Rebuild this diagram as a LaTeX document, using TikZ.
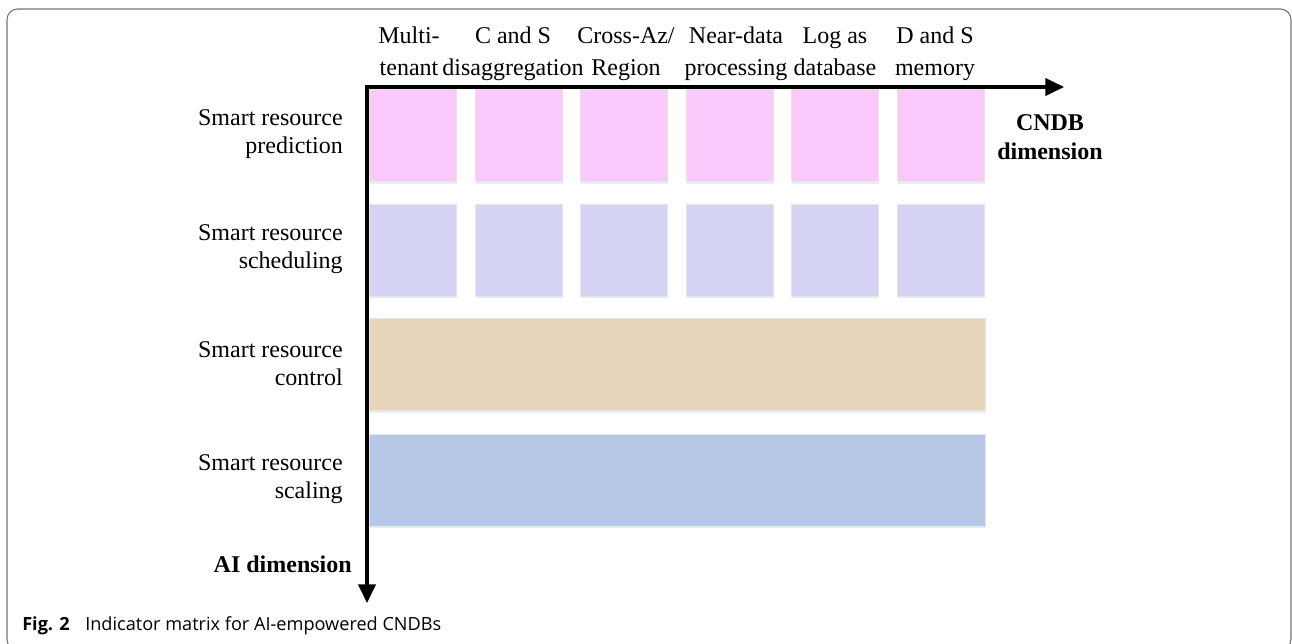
\documentclass[tikz,border=0pt]{standalone}
\usepackage{fontspec}
\setmainfont{Liberation Serif}
\newfontfamily\capfont{Open Sans}
\usetikzlibrary{arrows.meta,shadows}
\definecolor{cpink}{RGB}{252,201,252}
\definecolor{clav}{RGB}{214,212,244}
\definecolor{ctan}{RGB}{231,214,188}
\definecolor{cblue}{RGB}{183,199,231}
\definecolor{cshadow}{RGB}{200,216,242}
\tikzset{
  cell/.style={anchor=north west, inner sep=0pt, draw=black!10, line width=0.4pt,
    drop shadow={shadow xshift=0.5pt, shadow yshift=-2pt, opacity=0.45, fill=cshadow}},
  small/.style={cell, minimum width=65.25pt, minimum height=69pt},
  wide/.style={cell, minimum width=462pt, minimum height=69pt},
  head/.style={anchor=base, align=center, inner sep=0pt, font=\fontsize{18}{24}\selectfont},
  rowlab/.style={anchor=east, align=right, inner sep=0pt, font=\fontsize{18}{21}\selectfont},
  axlab/.style={align=center, inner sep=0pt, font=\fontsize{18}{21.75}\selectfont\bfseries},
  axis/.style={line width=2.4pt, -{Triangle[length=14pt,width=13pt]}},
}
\begin{document}
\begin{tikzpicture}[x=0.75pt,y=-0.75pt]
\useasboundingbox (0,0) rectangle (1292,643);
% frame
\draw[black!55, line width=0.8pt, rounded corners=8pt] (7,9) rectangle (1291,650);
% header labels
\node[head] (h1) at (409,75) {Multi-\\tenant};
\node[head] (h2) at (513,75) {C and S\\disaggregation};
\node[head] (h3) at (626,75) {Cross-Az/\\Region};
\node[head] (h4) at (736,75) {Near-data\\processing};
\node[head] (h5) at (835,75) {Log as\\database};
\node[head] (h6) at (935,75) {D and S\\memory};
% cells
\foreach \i/\x in {1/369,2/474.6,3/580.2,4/685.8,5/791.4,6/897}{
  \node[small, fill=cpink] (p\i) at (\x,89) {};
  \node[small, fill=clav] (s\i) at (\x,203.5) {};
}
\node[wide, fill=ctan] (ctl) at (369,318) {};
\node[wide, fill=cblue] (scl) at (369,433.5) {};
% row labels
\node[rowlab] (r1) at (343,134.5) {Smart resource\\prediction};
\node[rowlab] (r2) at (343,249) {Smart resource\\scheduling};
\node[rowlab] (r3) at (343,364) {Smart resource\\control};
\node[rowlab] (r4) at (343,479.5) {Smart resource\\scaling};
% axes
\coordinate (o) at (367,87);
\coordinate (xe) at (1064,87);
\coordinate (ye) at (367,603);
\draw[axis] ([xshift=-1.2pt]o) -- (xe);
\draw[axis] (o) -- (ye);
\node[axlab] (xl) at (1050,137) {CNDB\\dimension};
\node[axlab, anchor=east] (yl) at (352,564) {AI dimension};
% caption
\node[anchor=base west, inner sep=0pt, font=\capfont\bfseries\fontsize{13.6}{16}\selectfont] (fig) at (22,630) {Fig. 2};
\node[anchor=base west, inner sep=0pt, font=\capfont\fontsize{13.6}{16}\selectfont] (cap) at (85,630) {Indicator matrix for AI-empowered CNDBs};
\end{tikzpicture}
\end{document}
